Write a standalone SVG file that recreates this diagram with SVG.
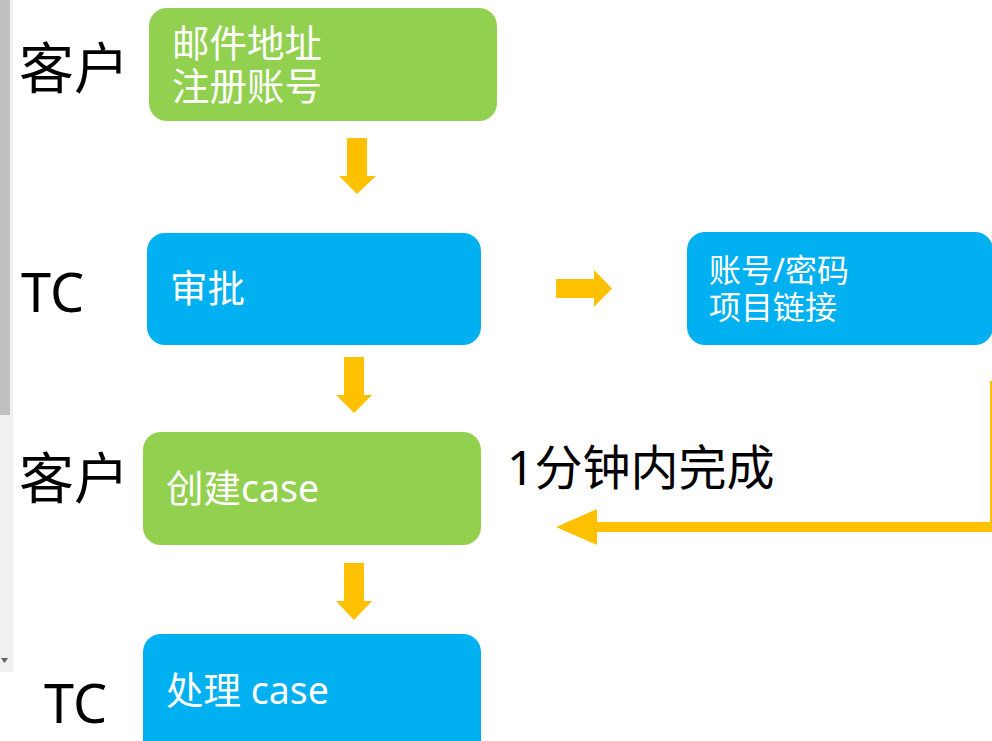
<svg xmlns="http://www.w3.org/2000/svg" width="992" height="741" viewBox="0 0 992 741">
<style>
.t{font-family:"Noto Sans","Noto Sans CJK SC",sans-serif;}
.side{font-size:55px;fill:#000;}
.nt{font-size:37.5px;fill:#fff;}
.nt2{font-size:32px;fill:#fff;}
.g{fill:#92D050;}
.b{fill:#00B0F0;}
.ar{fill:#FFC000;}
</style>
<rect x="0" y="0" width="992" height="741" fill="#fff"/>
<g id="scrollbar">
<rect x="0" y="0" width="13" height="672" fill="#f0f0f0"/>
<rect x="0" y="0" width="10" height="415" fill="#c0c0c0"/>
<polygon points="1,658 8,658 4.5,663" fill="#606060"/>
</g>
<g id="labels" class="t side">
<text x="19" y="88">客户</text>
<text x="21" y="312" font-size="54">TC</text>
<text x="19" y="498">客户</text>
<text x="44" y="723" font-size="54">TC</text>
</g>
<g id="n1"><rect class="g" x="149" y="8" width="348" height="113" rx="18"/>
<text class="t nt" x="172" y="57">邮件地址</text><text class="t nt" x="172" y="100">注册账号</text></g>
<g id="n2"><rect class="b" x="147" y="233" width="334" height="112" rx="18"/>
<text class="t nt" x="170" y="302">审批</text></g>
<g id="n3"><rect class="b" x="687" y="232" width="306" height="113" rx="18"/>
<text class="t nt2" x="709" y="282">账号/密码</text><text class="t nt2" x="709" y="319">项目链接</text></g>
<g id="n4"><rect class="g" x="143" y="432" width="338" height="113" rx="18"/>
<text class="t nt" x="166" y="502">创建case</text></g>
<g id="n5"><rect class="b" x="143" y="634" width="338" height="130" rx="18"/>
<text class="t nt" x="166" y="704">处理 case</text></g>
<g id="connectors">
<polygon class="ar" points="347,138 367,138 367,176 376,176 357,194 339,176 347,176"/>
<polygon class="ar" points="344,357 364,357 364,395 372,395 354,413 336,395 344,395"/>
<polygon class="ar" points="344,563 364,563 364,601 372,601 354,620 336,601 344,601"/>
<polygon class="ar" points="556,279 594,279 594,270 612,288.5 594,307 594,298 556,298"/>
<rect class="ar" x="990" y="381" width="2" height="146"/>
<polygon class="ar" points="992,522 597,522 597,509 556,527 597,545 597,532 992,532"/>
<text class="t" x="507" y="485" font-size="48" fill="#000">1分钟内完成</text>
</g>
</svg>
